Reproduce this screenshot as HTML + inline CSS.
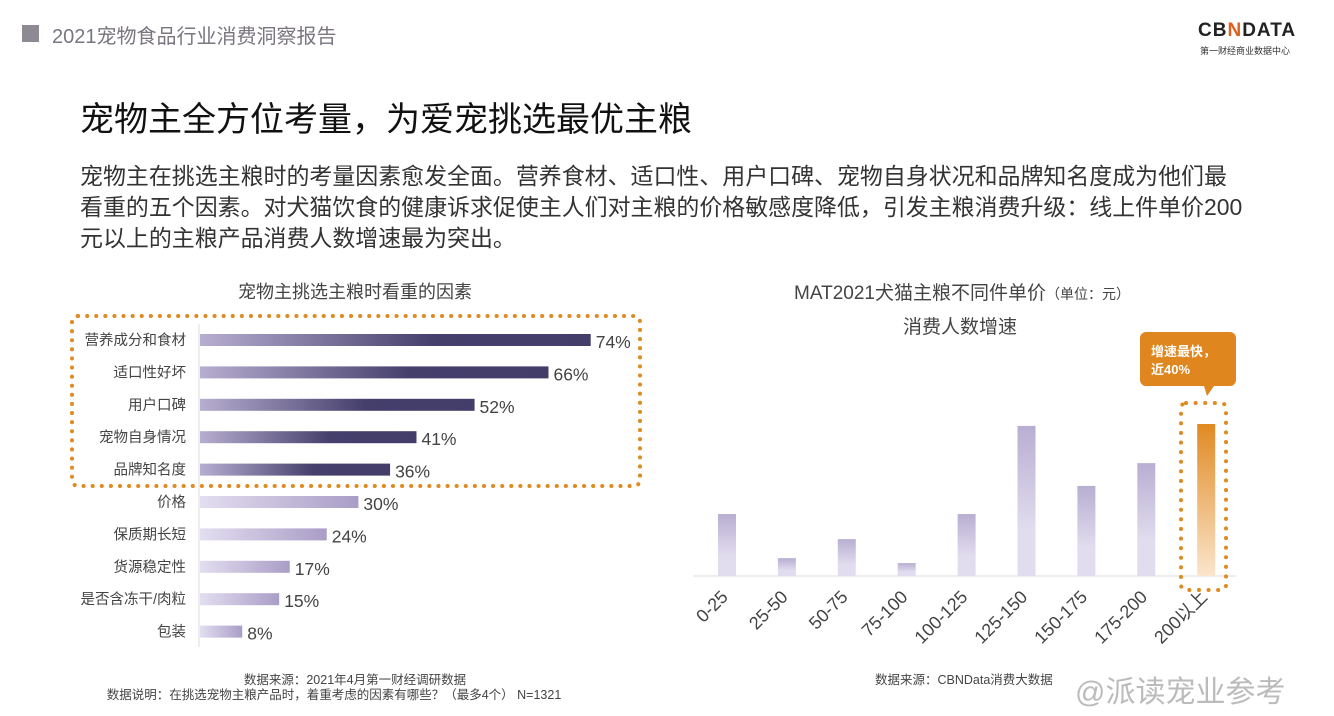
<!DOCTYPE html>
<html><head><meta charset="utf-8">
<style>
body{margin:0;width:1334px;height:716px;background:#fff;position:relative;overflow:hidden;font-family:"Liberation Sans","Noto Sans CJK SC",sans-serif;}
.abs{position:absolute;white-space:nowrap;}
</style></head><body>
<div class="abs" style="left:22px;top:25px;width:17px;height:17px;background:#8e8a93"></div>
<div class="abs" style="left:52px;top:20px;font-size:20px;color:#7a7580">2021宠物食品行业消费洞察报告</div>
<div class="abs" style="left:1198px;top:20px;font-size:19px;font-weight:bold;color:#222;letter-spacing:1px">CB<span style="color:#e0601e">N</span>DATA</div>
<div class="abs" style="left:1200px;top:44px;font-size:9px;color:#333">第一财经商业数据中心</div>
<div class="abs" style="left:80px;top:92px;font-size:34px;color:#111">宠物主全方位考量，为爱宠挑选最优主粮</div>
<div class="abs" style="left:80px;top:161px;font-size:22.95px;line-height:31px;color:#333">宠物主在挑选主粮时的考量因素愈发全面。营养食材、适口性、用户口碑、宠物自身状况和品牌知名度成为他们最<br>看重的五个因素。对犬猫饮食的健康诉求促使主人们对主粮的价格敏感度降低，引发主粮消费升级：线上件单价200<br>元以上的主粮产品消费人数增速最为突出。</div>

<svg class="abs" style="left:0;top:0" width="1334" height="716">
<defs>
<linearGradient id="gd" x1="0" x2="1" y1="0" y2="0"><stop offset="0" stop-color="#b7aed0"/><stop offset="0.6" stop-color="#453f6c"/><stop offset="1" stop-color="#433d6a"/></linearGradient>
<linearGradient id="gl" x1="0" x2="1" y1="0" y2="0"><stop offset="0" stop-color="#e3def0"/><stop offset="1" stop-color="#a99dc6"/></linearGradient>
<linearGradient id="gv" x1="0" x2="0" y1="0" y2="1"><stop offset="0" stop-color="#b8aed2"/><stop offset="0.7" stop-color="#e2ddee"/></linearGradient>
<linearGradient id="go" x1="0" x2="0" y1="0" y2="1"><stop offset="0" stop-color="#e08a22"/><stop offset="1" stop-color="#fbe5cc"/></linearGradient>
</defs>
<text x="355" y="298" text-anchor="middle" font-size="18" fill="#444">宠物主挑选主粮时看重的因素</text>
<line x1="199" y1="324" x2="199" y2="647" stroke="#ddd"/>
<g id="lbars"></g>
<rect x="72" y="316" width="568" height="170" rx="6" fill="none" stroke="#e08a22" stroke-width="4" stroke-dasharray="0.1 9" stroke-linecap="round"/>
<text x="355" y="684" text-anchor="middle" font-size="12.5" fill="#444">数据来源：2021年4月第一财经调研数据</text>
<text x="334" y="699" text-anchor="middle" font-size="12.5" fill="#444">数据说明：在挑选宠物主粮产品时，着重考虑的因素有哪些？（最多4个） N=1321</text>

<text x="962" y="299" text-anchor="middle" font-size="19" fill="#444">MAT2021犬猫主粮不同件单价<tspan font-size="14">（单位：元）</tspan></text>
<text x="960" y="333" text-anchor="middle" font-size="19" fill="#444">消费人数增速</text>
<line x1="693" y1="576" x2="1236" y2="576" stroke="#ddd"/>
<g id="vbars"></g>
<rect x="1181" y="403" width="45" height="187" rx="5" fill="none" stroke="#e08a22" stroke-width="4" stroke-dasharray="0.1 9.5" stroke-linecap="round"/>
<path d="M1146 332 h84 a6 6 0 0 1 6 6 v42 a6 6 0 0 1 -6 6 h-16 l-7 10 l-3 -10 h-58 a6 6 0 0 1 -6 -6 v-42 a6 6 0 0 1 6 -6z" fill="#df861e"/>
<text x="1151" y="356" font-size="13" fill="#fff" font-weight="bold">增速最快，</text>
<text x="1151" y="374" font-size="13" fill="#fff" font-weight="bold">近40%</text>
<text x="875" y="684" font-size="12.5" fill="#444">数据来源：CBNData消费大数据</text>
<text x="1075" y="702" font-size="30" fill="#bbb">@派读宠业参考</text>
</svg>
<script>
const factors=["营养成分和食材","适口性好坏","用户口碑","宠物自身情况","品牌知名度","价格","保质期长短","货源稳定性","是否含冻干/肉粒","包装"];
const shares=[74,66,52,41,36,30,24,17,15,8];
const ranges=["0-25","25-50","50-75","75-100","100-125","125-150","150-175","175-200","200以上"];
const growth=[16.3,4.7,9.7,3.4,16.3,39.5,23.7,29.7,40];
const NS="http://www.w3.org/2000/svg";
function mk(t,a,p){const e=document.createElementNS(NS,t);for(const k in a)e.setAttribute(k,a[k]);p.appendChild(e);return e;}
const xL=v=>200+v*5.28, yL=i=>340+i*32.4;
const lg=document.getElementById('lbars');
factors.forEach((f,i)=>{
  const r=mk('rect',{x:200,y:yL(i)-6,width:xL(shares[i])-200,height:12,fill:i<5?'url(#gd)':'url(#gl)'},lg);
  
  
  const t=mk('text',{x:186,y:yL(i)+5,'text-anchor':'end','font-size':14.5,fill:'#444'},lg);t.textContent=f;
  
  
  const v=mk('text',{x:xL(shares[i])+5,y:yL(i)+8,'font-size':17.5,fill:'#444'},lg);v.textContent=shares[i]+'%';
  
  
});
const xV=i=>727+i*59.9, yV=v=>576-v*3.8;
const vg=document.getElementById('vbars');
ranges.forEach((c,i)=>{
  const last=i===ranges.length-1;
  const w=18;
  const r=mk('rect',{x:xV(i)-w/2,y:yV(growth[i]),width:w,height:576-yV(growth[i]),fill:last?'url(#go)':'url(#gv)'},vg);
  
  
  const ax=xV(i)+2, ay=598;
  const t=mk('text',{x:ax,y:ay,'text-anchor':'end','font-size':18,fill:'#444',transform:`rotate(-45 ${ax} ${ay})`},vg);t.textContent=c;
  
  
});
</script>
</body></html>
